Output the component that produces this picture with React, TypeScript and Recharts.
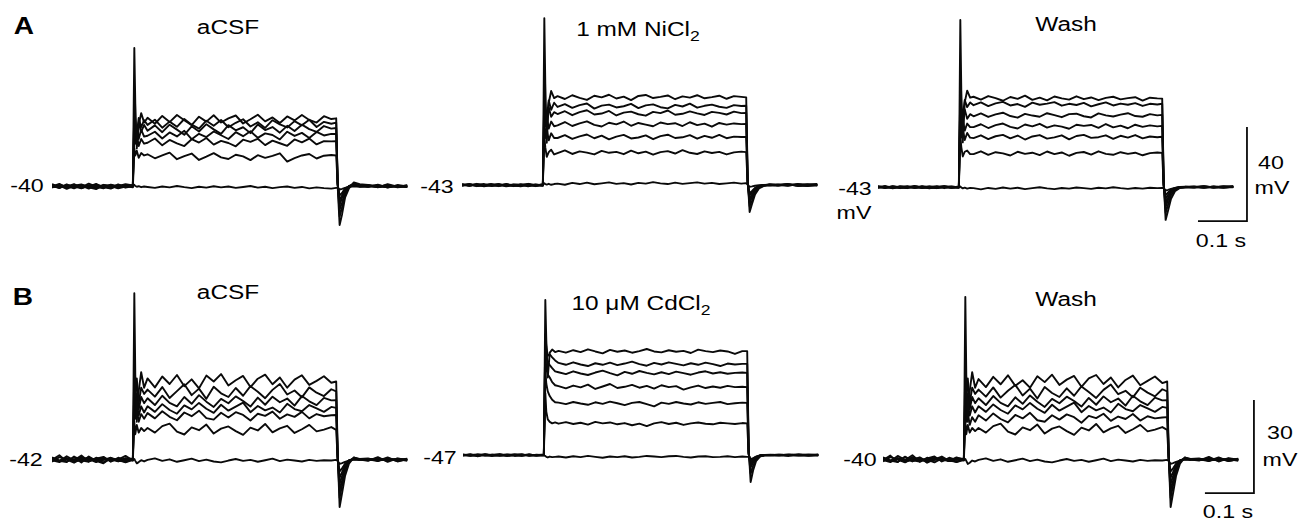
import React from 'react';
import { LineChart, Line, XAxis, YAxis } from 'recharts';

// ---- shared time base (ms from start of sweep) ----
const timeMs = [
  0, 15, 30, 45, 60, 75, 90, 105, 120, 135, 150, 165,
  168, 170, 173, 177, 182, 188,
  195, 210, 225, 240, 255, 270, 285, 300, 315, 330, 345, 360, 375, 390, 405, 420, 435, 450, 465, 480, 495, 510, 525, 540, 555, 570, 580,
  583, 587, 592, 598, 606, 616, 628,
  645, 665, 685, 705, 725,
];

// ---- A: aCSF (rest -40 mV) ----
const A1_t1 = [-40.2, -39.1, -40.8, -39.5, -40.6, -39.0, -40.3, -41.0, -39.4, -40.1, -39.2, -39.8,
  18.7, -5, -24, -14, -9, -13,
  -11.0, -13.5, -10.2, -12.8, -9.8, -12.0, -14.1, -10.5, -12.6, -9.9, -13.0, -11.2, -10.0, -13.4, -11.6, -9.7, -12.5, -10.8, -13.2, -10.4, -12.1, -9.8, -11.9, -13.0, -10.3, -11.5, -11.2,
  -40, -56.6, -52, -45, -41, -38.5, -39.2,
  -39.5, -40.6, -39.2, -40.3, -39.8];
const A1_t2 = [-39.6, -40.9, -39.3, -40.7, -39.8, -41.1, -39.5, -40.2, -40.9, -39.3, -40.5, -39.9,
  -8, -12, -18, -11, -15, -12,
  -14.0, -11.8, -15.2, -12.6, -14.8, -11.5, -13.9, -15.6, -12.2, -14.4, -11.9, -15.0, -13.1, -11.6, -14.7, -12.9, -15.3, -12.0, -13.8, -15.1, -12.4, -14.2, -11.8, -14.9, -12.7, -13.5, -13.0,
  -38, -53, -49, -44, -40.5, -38.8, -39.6,
  -40.4, -39.4, -40.7, -39.6, -40.2];
const A1_t3 = [-40.5, -39.7, -41.2, -39.9, -39.3, -40.6, -41.3, -39.6, -40.1, -40.8, -39.6, -40.3,
  -6, -16, -20, -13, -17, -14,
  -16.5, -14.2, -17.1, -13.9, -16.0, -18.2, -14.6, -16.8, -13.7, -15.9, -17.8, -14.1, -16.3, -15.0, -17.5, -13.8, -16.2, -14.9, -17.3, -14.4, -16.6, -13.9, -15.8, -17.0, -14.5, -15.6, -15.3,
  -38, -50, -47, -43, -40.2, -39.0, -39.9,
  -39.8, -40.5, -39.5, -40.6, -40.1];
const A1_t4 = [-39.2, -40.4, -40.0, -41.0, -39.6, -40.3, -39.1, -40.7, -39.8, -41.0, -40.2, -39.5,
  -12, -19, -15, -20, -16, -19,
  -18.6, -16.9, -19.8, -17.2, -18.9, -16.5, -20.1, -17.8, -19.2, -16.8, -18.4, -20.0, -17.1, -18.8, -16.7, -19.5, -17.6, -18.3, -20.2, -16.9, -18.7, -17.4, -19.6, -17.0, -18.5, -17.8, -17.9,
  -39, -48, -45, -42, -40.0, -39.3, -40.2,
  -40.1, -39.7, -40.4, -39.9, -40.5];
const A1_t5 = [-40.7, -39.4, -40.3, -39.2, -40.9, -39.7, -40.6, -39.5, -40.4, -39.6, -40.7, -40.0,
  -15, -22, -18, -23, -20, -22,
  -21.6, -19.8, -22.7, -20.4, -21.9, -23.0, -20.1, -21.5, -19.6, -22.4, -20.8, -21.7, -23.1, -20.3, -21.2, -19.9, -22.6, -20.7, -21.8, -22.9, -20.2, -21.4, -19.8, -22.3, -20.9, -21.0, -20.9,
  -39, -46, -44, -41.5, -40.1, -39.6, -40.0,
  -39.6, -40.2, -39.8, -40.5, -39.7];
const A1_t6 = [-40.1, -40.8, -39.5, -40.2, -41.0, -39.9, -39.6, -40.5, -41.1, -39.8, -40.0, -40.6,
  -24, -27, -25, -28, -26, -27,
  -26.5, -28.2, -27.0, -25.8, -28.6, -27.3, -26.2, -28.9, -27.5, -26.0, -27.8, -28.5, -26.7, -27.4, -29.0, -26.9, -28.0, -27.2, -26.1, -29.6, -28.1, -27.0, -26.4, -28.3, -27.1, -26.8, -27.0,
  -39.5, -44, -43, -41, -40.2, -39.8, -40.1,
  -40.3, -39.9, -40.6, -40.0, -40.4];
const A1_t7 = [-40.4, -39.9, -40.6, -40.1, -39.7, -40.3, -40.8, -40.0, -39.6, -40.5, -40.2, -39.9,
  -39.5, -40.0, -40.3, -40.1, -40.5, -40.2,
  -40.4, -40.8, -40.2, -40.6, -40.0, -40.5, -40.9, -40.3, -40.7, -40.1, -40.6, -40.2, -40.8, -40.4, -40.0, -40.7, -40.3, -40.9, -40.5, -40.2, -40.8, -40.4, -41.0, -40.6, -40.9, -41.1, -40.8,
  -40.8, -41.5, -41.2, -40.8, -40.4, -40.1, -40.3,
  -40.0, -40.4, -40.2, -39.9, -40.3];

// ---- A: 1 mM NiCl2 (rest -43 mV) ----
const A2_t1 = [-43.2, -42.6, -43.5, -42.9, -43.3, -42.7, -43.6, -43.0, -42.8, -43.4, -42.9, -43.1,
  28, 0, -25, -8, -3, -6,
  -5.2, -6.4, -4.8, -5.9, -6.8, -5.0, -5.7, -4.6, -6.2, -5.4, -6.9, -5.1, -4.7, -6.0, -5.5, -4.9, -6.5, -5.3, -5.8, -4.8, -6.1, -5.6, -5.0, -6.3, -5.2, -5.5, -5.7,
  -40, -54.5, -51, -47, -44.5, -43.4, -42.8,
  -43.1, -42.7, -43.3, -42.9, -42.5];
const A2_t2 = [-42.8, -43.4, -42.5, -43.1, -42.7, -43.5, -42.9, -43.2, -43.6, -42.6, -43.0, -43.3,
  -2, -10, -15, -7, -11, -8,
  -9.8, -8.6, -10.2, -9.0, -8.3, -10.5, -9.2, -8.8, -10.0, -9.5, -8.5, -10.3, -9.1, -8.7, -9.9, -10.4, -8.9, -9.6, -8.4, -10.1, -9.3, -8.8, -9.7, -10.2, -9.0, -9.4, -9.3,
  -41, -52, -49.5, -46, -44, -43.2, -43.0,
  -42.8, -43.3, -42.6, -43.0, -43.2];
const A2_t3 = [-43.0, -42.7, -43.4, -43.1, -42.6, -43.2, -42.9, -43.5, -42.8, -43.0, -43.3, -42.7,
  -5, -13, -17, -10, -14, -12,
  -12.8, -11.6, -13.3, -12.0, -11.2, -13.0, -12.6, -11.5, -13.4, -12.2, -11.8, -12.9, -13.5, -11.9, -12.4, -11.3, -13.1, -12.7, -11.7, -12.5, -13.2, -11.9, -12.3, -13.0, -11.8, -12.4, -12.3,
  -41.5, -50.5, -48, -45.5, -43.8, -43.1, -42.9,
  -43.2, -42.8, -43.1, -43.4, -42.9];
const A2_t4 = [-42.6, -43.3, -42.9, -43.6, -43.0, -42.7, -43.4, -42.8, -43.1, -42.5, -43.5, -43.0,
  -9, -18, -14, -19, -16, -18,
  -17.6, -16.2, -17.9, -16.8, -15.9, -17.4, -18.1, -16.5, -17.2, -16.0, -17.8, -16.6, -17.3, -18.0, -16.4, -17.1, -16.7, -17.9, -16.3, -17.5, -16.9, -18.2, -16.6, -17.3, -16.8, -17.1, -17.0,
  -42, -49, -47, -45, -43.6, -43.0, -43.2,
  -42.9, -43.2, -42.7, -43.3, -43.0];
const A2_t5 = [-43.3, -42.8, -43.0, -42.6, -43.4, -43.1, -42.7, -43.3, -42.9, -43.6, -42.8, -43.2,
  -14, -23, -19, -24, -21, -23,
  -23.0, -21.8, -23.4, -22.3, -21.5, -23.1, -22.0, -23.6, -22.4, -21.7, -23.2, -22.8, -21.9, -23.5, -22.2, -21.6, -23.0, -22.7, -21.8, -23.3, -22.1, -22.9, -21.7, -23.1, -22.4, -22.6, -22.5,
  -42.5, -47.5, -46, -44.5, -43.5, -43.1, -42.8,
  -43.0, -42.6, -43.4, -43.1, -42.7];
const A2_t6 = [-42.9, -43.2, -42.7, -43.4, -43.0, -43.3, -42.6, -43.1, -43.5, -42.9, -43.2, -42.8,
  -22, -27, -31, -29, -28, -30,
  -29.4, -28.3, -29.8, -28.7, -29.2, -30.0, -28.5, -29.3, -28.9, -29.9, -28.4, -29.5, -28.8, -30.1, -29.0, -28.6, -29.6, -28.2, -29.3, -29.8, -28.7, -29.4, -28.9, -30.0, -29.1, -28.8, -29.0,
  -42.8, -46.5, -45.5, -44.2, -43.4, -43.0, -43.1,
  -43.2, -42.9, -43.0, -42.7, -43.1];
const A2_t7 = [-43.0, -42.8, -43.2, -42.9, -43.1, -42.7, -43.3, -42.9, -43.0, -42.8, -43.2, -42.9,
  -42.3, -42.6, -42.8, -42.5, -42.9, -42.6,
  -42.4, -42.9, -42.1, -42.6, -42.0, -42.7, -42.3, -41.9, -42.5, -42.2, -42.8, -42.1, -42.4, -41.8, -42.3, -42.6, -42.0, -42.5, -42.2, -41.9, -42.4, -42.1, -42.6, -42.3, -42.0, -42.4, -42.2,
  -42.8, -43.8, -43.6, -43.3, -43.1, -43.0, -42.9,
  -43.0, -42.8, -43.1, -42.9, -43.0];

// ---- A: Wash (rest -43 mV) ----
const A3_t1 = [-43.3, -42.8, -43.6, -42.9, -43.1, -42.6, -43.4, -43.0, -42.7, -43.5, -43.0, -42.9,
  28.1, -2, -24, -7, -2, -5,
  -4.6, -5.8, -4.3, -5.2, -6.3, -4.7, -5.5, -4.1, -5.9, -5.0, -6.1, -4.5, -5.3, -5.8, -4.4, -5.6, -4.9, -6.0, -5.1, -4.6, -5.7, -5.2, -4.8, -6.2, -5.0, -5.3, -5.4,
  -40, -57, -53, -48, -44.8, -43.4, -42.9,
  -43.2, -42.8, -43.1, -42.7, -43.0];
const A3_t2 = [-42.9, -43.4, -42.7, -43.2, -43.5, -42.8, -43.1, -43.6, -42.9, -43.0, -43.3, -42.8,
  -1, -9, -13, -6, -9, -7,
  -8.2, -7.0, -8.6, -7.4, -6.8, -8.3, -7.7, -8.9, -7.1, -8.0, -7.5, -6.9, -8.4, -7.6, -8.1, -7.2, -8.7, -7.8, -7.0, -8.3, -7.5, -8.0, -7.3, -8.5, -7.6, -7.9, -7.6,
  -41, -54, -50.5, -46.5, -44.2, -43.3, -43.0,
  -42.8, -43.2, -42.9, -43.3, -42.8];
const A3_t3 = [-43.1, -42.6, -43.3, -43.0, -42.8, -43.4, -42.7, -43.2, -43.5, -42.9, -43.1, -43.3,
  -4, -13, -16, -10, -14, -12,
  -12.9, -11.7, -13.2, -12.1, -11.4, -12.8, -13.5, -11.9, -12.6, -13.1, -11.6, -12.4, -13.3, -12.0, -11.8, -12.9, -13.4, -11.7, -12.5, -13.0, -12.2, -11.6, -12.8, -13.1, -12.0, -12.5, -12.3,
  -41.5, -51.5, -48.5, -45.5, -43.9, -43.1, -43.0,
  -43.1, -42.7, -43.2, -43.0, -42.8];
const A3_t4 = [-42.7, -43.2, -43.0, -43.5, -42.8, -43.1, -43.4, -42.9, -43.2, -42.6, -43.3, -43.1,
  -9, -18, -14, -19, -16, -17.5,
  -17.5, -16.3, -17.9, -16.7, -16.0, -17.4, -18.1, -16.4, -17.2, -16.1, -17.7, -16.8, -17.3, -18.2, -16.5, -17.0, -16.6, -17.8, -16.2, -17.6, -16.9, -18.0, -16.5, -17.4, -16.8, -17.2, -17.0,
  -42, -49.5, -47.5, -45, -43.7, -43.1, -43.0,
  -42.9, -43.3, -42.8, -43.2, -43.0];
const A3_t5 = [-43.2, -42.9, -43.4, -42.7, -43.0, -43.3, -42.8, -43.5, -43.0, -42.7, -43.2, -43.0,
  -13, -22, -18, -23, -20, -22,
  -22.2, -21.0, -22.6, -21.4, -20.8, -22.3, -21.1, -22.8, -21.5, -20.9, -22.4, -21.9, -21.0, -22.7, -21.3, -20.8, -22.1, -21.8, -21.0, -22.5, -21.2, -22.0, -20.9, -22.3, -21.5, -21.8, -21.6,
  -42.5, -48, -46.3, -44.6, -43.5, -43.0, -42.9,
  -43.1, -42.8, -43.2, -43.0, -42.7];
const A3_t6 = [-42.8, -43.3, -42.9, -43.2, -43.4, -42.7, -43.1, -42.9, -43.5, -43.0, -42.8, -43.2,
  -21, -26, -30, -28, -27.5, -29,
  -29.0, -27.8, -29.3, -28.2, -28.7, -29.6, -28.0, -28.9, -28.4, -29.4, -27.9, -29.0, -28.3, -29.7, -28.5, -28.1, -29.2, -27.8, -28.9, -29.3, -28.2, -28.9, -28.4, -29.5, -28.6, -28.3, -28.5,
  -42.8, -46.5, -45.3, -44.1, -43.4, -43.0, -43.1,
  -43.0, -42.9, -43.2, -42.8, -43.1];
const A3_t7 = [-43.0, -43.2, -42.8, -43.1, -42.9, -43.3, -43.0, -42.8, -43.2, -43.0, -42.9, -43.1,
  -42.8, -43.2, -43.6, -43.3, -43.7, -43.4,
  -43.5, -44.0, -43.4, -43.8, -43.2, -43.7, -43.3, -43.9, -43.5, -43.1, -43.6, -43.9, -43.4, -43.7, -43.2, -43.5, -43.8, -43.3, -43.6, -43.1, -43.5, -43.8, -43.4, -43.7, -43.3, -43.5, -43.4,
  -43.5, -44.5, -44.2, -43.8, -43.4, -43.2, -43.1,
  -43.0, -43.2, -42.9, -43.1, -43.0];

// ---- B: aCSF (rest -42 mV) ----
const B1_t1 = [-42.3, -40.8, -42.9, -41.5, -43.1, -41.2, -42.6, -43.4, -41.7, -42.2, -41.0, -42.5,
  11.5, -15, -30, -20, -14, -19,
  -16.0, -18.9, -15.4, -17.8, -14.9, -18.5, -16.3, -19.2, -15.1, -17.0, -14.6, -18.3, -16.6, -15.2, -18.8, -16.1, -14.8, -17.9, -15.7, -19.0, -16.4, -15.0, -18.1, -16.8, -15.3, -17.4, -17.0,
  -40, -57.5, -53, -47.5, -43.5, -41.5, -42.2,
  -42.6, -41.4, -42.9, -41.8, -42.3];
const B1_t2 = [-41.6, -42.7, -41.1, -42.4, -40.9, -42.8, -41.9, -41.3, -42.9, -41.6, -42.4, -41.9,
  -12.3, -22, -16, -24, -19, -21,
  -19.6, -21.9, -18.8, -22.3, -20.1, -17.9, -21.4, -19.3, -22.6, -18.7, -20.8, -22.0, -19.1, -21.6, -18.5, -20.3, -22.4, -19.7, -17.8, -21.2, -19.9, -22.1, -18.9, -20.6, -21.7, -19.5, -20.2,
  -40.5, -54.5, -50.5, -46, -43, -41.6, -42.0,
  -41.8, -42.6, -41.5, -42.8, -42.0];
const B1_t3 = [-42.9, -41.4, -42.2, -43.2, -41.8, -42.0, -43.0, -41.5, -42.7, -42.1, -43.1, -42.3,
  -18, -25, -21, -26, -22, -24,
  -22.4, -24.6, -21.6, -23.9, -25.0, -22.0, -24.2, -21.4, -23.5, -25.2, -22.6, -24.0, -21.8, -23.3, -25.1, -22.2, -24.5, -21.9, -23.7, -22.5, -24.8, -21.7, -23.4, -24.6, -22.3, -23.1, -23.0,
  -41, -52, -49, -45.5, -42.8, -41.8, -42.1,
  -42.4, -41.7, -42.5, -42.0, -42.6];
const B1_t4 = [-41.5, -42.6, -43.0, -41.2, -42.4, -42.9, -41.6, -42.3, -41.8, -42.8, -41.7, -42.0,
  -21, -27, -24, -28, -25, -27,
  -25.0, -26.8, -24.3, -26.2, -27.4, -24.7, -26.0, -23.9, -25.8, -27.1, -24.5, -26.4, -25.1, -23.8, -26.9, -24.9, -26.3, -25.4, -27.0, -24.2, -25.9, -26.6, -24.6, -25.7, -26.8, -25.2, -25.5,
  -41.5, -50, -47.5, -44.8, -42.6, -41.9, -42.0,
  -42.1, -42.7, -41.8, -42.3, -41.9];
const B1_t5 = [-42.4, -43.0, -41.9, -42.7, -41.4, -42.5, -42.2, -43.1, -41.8, -42.5, -42.9, -42.1,
  -24, -29, -26, -30, -27.5, -29,
  -27.2, -28.9, -26.6, -28.4, -29.5, -27.0, -28.2, -26.4, -28.8, -29.3, -27.1, -28.6, -26.9, -27.8, -29.6, -27.4, -28.1, -26.7, -29.0, -27.6, -28.4, -26.8, -28.9, -27.5, -28.2, -27.9, -27.8,
  -42, -48, -46.2, -44, -42.5, -42.0, -42.2,
  -42.0, -42.4, -41.9, -42.6, -42.2];
const B1_t6 = [-42.0, -42.6, -41.7, -42.9, -42.2, -41.5, -42.8, -42.3, -41.6, -42.7, -42.1, -42.5,
  -30, -34, -31, -33.5, -32, -33,
  -32.0, -33.5, -31.4, -30.6, -33.2, -34.1, -31.8, -32.7, -30.9, -33.8, -32.2, -31.5, -33.0, -34.2, -31.9, -32.8, -30.7, -33.4, -32.1, -31.3, -33.6, -32.4, -31.0, -33.1, -32.5, -31.7, -32.6,
  -42.2, -46, -45, -43.5, -42.4, -42.0, -42.1,
  -42.3, -42.0, -42.5, -41.9, -42.2];
const B1_t7 = [-42.1, -42.5, -41.8, -42.3, -42.6, -42.0, -42.4, -41.9, -42.2, -42.7, -42.1, -42.3,
  -42.0, -42.6, -43.4, -43.0, -42.4, -42.8,
  -42.3, -41.8, -42.6, -42.1, -42.9, -42.4, -41.9, -42.7, -42.2, -42.8, -43.1, -42.5, -42.0, -42.6, -42.3, -42.9, -42.4, -41.9, -42.7, -42.2, -42.5, -42.8, -42.3, -42.6, -42.4, -42.5, -42.3,
  -42.6, -43.6, -43.3, -42.9, -42.5, -42.2, -42.3,
  -42.0, -42.4, -42.1, -42.5, -42.2];

// ---- B: 10 uM CdCl2 (rest -47 mV) ----
const B2_t1 = [-47.2, -46.8, -47.4, -46.9, -47.1, -46.7, -47.3, -47.0, -46.8, -47.2, -46.9, -47.1,
  3.0, -10, -22, -14, -13, -13.8,
  -13.4, -14.0, -13.2, -13.8, -12.9, -13.6, -14.2, -13.1, -13.7, -13.3, -14.0, -13.5, -12.8, -13.6, -13.9, -13.2, -13.7, -13.4, -14.1, -13.0, -13.5, -13.8, -13.3, -13.6, -14.4, -13.5, -13.5,
  -45, -55.7, -52, -49, -47.5, -47.0, -47.1,
  -47.0, -47.3, -46.8, -47.1, -47.0];
const B2_t2 = [-46.9, -47.3, -47.0, -46.7, -47.2, -47.0, -46.8, -47.3, -47.1, -46.8, -47.2, -47.0,
  -8, -12, -15, -14.5, -15.5, -16.5,
  -17.3, -17.9, -17.1, -17.8, -18.3, -17.4, -17.9, -17.2, -18.0, -17.5, -16.9, -17.7, -18.2, -17.3, -17.8, -17.1, -17.6, -18.1, -17.4, -17.9, -17.2, -17.7, -18.3, -17.5, -17.8, -17.6, -17.6,
  -46, -53, -50.5, -48.5, -47.4, -47.0, -47.0,
  -47.1, -46.9, -47.2, -47.0, -46.8];
const B2_t3 = [-47.1, -46.8, -47.2, -47.0, -46.9, -47.3, -47.0, -46.8, -47.2, -46.9, -47.1, -47.0,
  -10, -15, -17, -18, -19, -20,
  -20.3, -20.9, -20.0, -20.7, -21.2, -20.4, -19.8, -20.6, -21.3, -20.2, -20.8, -19.9, -20.5, -21.0, -20.3, -20.9, -20.1, -20.6, -21.1, -20.4, -20.0, -20.7, -20.3, -20.8, -20.5, -20.4, -20.5,
  -46.2, -51, -49.5, -48, -47.3, -47.0, -47.1,
  -46.9, -47.1, -47.0, -46.8, -47.1];
const B2_t4 = [-46.8, -47.2, -46.9, -47.1, -47.3, -46.9, -47.1, -47.0, -46.8, -47.3, -47.0, -46.9,
  -14, -19, -21, -22, -23.5, -24.5,
  -24.8, -25.5, -24.6, -25.2, -24.3, -25.7, -24.9, -24.1, -25.4, -25.0, -24.4, -25.3, -24.7, -25.6, -24.5, -25.1, -24.8, -25.9, -25.2, -24.6, -25.4, -24.9, -25.3, -24.7, -25.1, -25.0, -25.1,
  -46.5, -50, -49, -47.8, -47.2, -47.0, -46.9,
  -47.1, -47.0, -46.8, -47.2, -47.0];
const B2_t5 = [-47.0, -46.9, -47.3, -46.8, -47.1, -47.2, -46.9, -47.0, -47.3, -46.9, -47.1, -46.8,
  -19, -24, -26.5, -28, -29.2, -30,
  -30.1, -30.6, -29.9, -30.4, -30.8, -30.0, -30.5, -29.8, -30.3, -30.9, -30.2, -29.9, -30.6, -31.3, -30.1, -30.5, -29.9, -30.4, -30.7, -30.0, -30.5, -30.2, -29.9, -30.6, -30.3, -30.1, -30.2,
  -46.7, -49.2, -48.5, -47.6, -47.1, -47.0, -47.0,
  -46.9, -47.1, -47.0, -47.2, -46.9];
const B2_t6 = [-47.1, -47.0, -46.8, -47.2, -46.9, -47.0, -47.3, -46.8, -47.1, -46.9, -47.2, -47.0,
  -27, -33, -35.5, -36.3, -36.8, -36.5,
  -36.9, -36.4, -37.0, -36.6, -37.2, -36.3, -36.8, -36.5, -37.1, -36.7, -37.4, -36.9, -37.7, -36.8, -36.4, -37.0, -36.6, -37.3, -36.8, -36.5, -36.9, -37.1, -36.6, -36.8, -37.0, -36.7, -36.8,
  -46.9, -48.8, -48.2, -47.5, -47.1, -47.0, -47.0,
  -47.0, -46.9, -47.1, -47.0, -47.2];
const B2_t7 = [-47.0, -47.2, -46.9, -47.1, -47.0, -46.8, -47.2, -47.0, -46.9, -47.1, -47.0, -47.2,
  -47.3, -47.6, -47.8, -47.5, -47.7, -47.6,
  -47.5, -47.8, -47.4, -47.7, -47.3, -47.6, -47.9, -47.5, -47.7, -47.4, -47.8, -47.6, -47.3, -47.5, -47.7, -47.4, -47.3, -47.6, -47.8, -47.5, -47.4, -47.7, -47.6, -47.4, -47.7, -47.5, -47.6,
  -47.6, -48.3, -48.0, -47.6, -47.3, -47.1, -47.0,
  -47.1, -46.9, -47.0, -47.1, -47.0];

// ---- B: Wash (rest -40 mV) ----
const B3_t1 = [-40.4, -38.9, -41.0, -39.3, -40.8, -39.6, -41.2, -40.1, -39.2, -40.6, -39.5, -40.2,
  12.3, -13, -28, -18, -12, -17,
  -14.2, -16.8, -13.5, -15.9, -13.0, -16.4, -14.6, -17.0, -13.3, -15.2, -12.8, -16.1, -14.4, -13.2, -16.7, -14.0, -12.9, -15.8, -13.7, -16.9, -14.5, -13.1, -16.2, -14.8, -13.4, -15.5, -15.0,
  -38, -55.5, -51, -45.5, -41.5, -39.5, -40.2,
  -40.5, -39.3, -40.8, -39.7, -40.2];
const B3_t2 = [-39.5, -40.7, -39.0, -40.3, -38.8, -40.9, -39.8, -39.2, -40.8, -39.6, -40.3, -39.9,
  -10.3, -20, -14, -22, -17, -19,
  -17.6, -19.9, -16.9, -20.2, -18.0, -16.1, -19.5, -17.3, -20.5, -16.8, -18.7, -20.0, -17.2, -19.6, -16.6, -18.4, -20.3, -17.7, -16.0, -19.1, -18.0, -20.1, -17.0, -18.6, -19.8, -17.5, -18.2,
  -38.5, -52.5, -48.5, -44, -41, -39.6, -40.0,
  -39.8, -40.6, -39.5, -40.7, -40.0];
const B3_t3 = [-40.8, -39.4, -40.2, -41.1, -39.7, -40.0, -40.9, -39.5, -40.6, -40.1, -41.0, -40.3,
  -16, -23, -19, -24, -20, -22,
  -20.4, -22.6, -19.7, -21.9, -23.0, -20.1, -22.2, -19.5, -21.5, -23.2, -20.6, -22.0, -19.9, -21.3, -23.1, -20.3, -22.5, -19.8, -21.7, -20.5, -22.8, -19.6, -21.4, -22.6, -20.2, -21.1, -21.0,
  -39, -50, -47, -43.5, -40.8, -39.8, -40.1,
  -40.3, -39.7, -40.5, -40.0, -40.6];
const B3_t4 = [-39.6, -40.5, -41.0, -39.3, -40.4, -40.8, -39.6, -40.3, -39.8, -40.7, -39.7, -40.0,
  -19, -25, -22, -26, -23, -25,
  -23.0, -24.8, -22.4, -24.2, -25.4, -22.7, -24.0, -21.9, -23.8, -25.1, -22.5, -24.4, -23.1, -21.8, -24.9, -22.9, -24.3, -23.4, -25.0, -22.2, -23.9, -24.6, -22.6, -23.7, -24.8, -23.2, -23.5,
  -39.5, -48, -45.5, -42.8, -40.6, -39.9, -40.0,
  -40.1, -40.7, -39.8, -40.3, -39.9];
const B3_t5 = [-40.3, -41.0, -39.9, -40.7, -39.4, -40.5, -40.2, -41.1, -39.8, -40.5, -40.9, -40.1,
  -22, -28, -25, -29, -26.5, -28,
  -25.9, -27.6, -25.3, -27.1, -28.2, -25.8, -26.9, -25.1, -27.5, -28.0, -25.9, -27.3, -25.6, -26.5, -28.3, -26.1, -26.8, -25.4, -27.7, -26.3, -27.1, -25.5, -27.6, -26.2, -26.9, -26.6, -26.5,
  -40, -46, -44.2, -42, -40.5, -40.0, -40.2,
  -40.0, -40.4, -39.9, -40.6, -40.2];
const B3_t6 = [-40.0, -40.6, -39.7, -40.9, -40.2, -39.5, -40.8, -40.3, -39.6, -40.7, -40.1, -40.5,
  -28, -32, -29, -31.5, -30, -31,
  -30.0, -31.5, -29.4, -28.6, -31.2, -32.1, -29.8, -30.7, -28.9, -31.8, -30.2, -29.5, -31.0, -32.2, -29.9, -30.8, -28.7, -31.4, -30.1, -29.3, -31.6, -30.4, -29.0, -31.1, -30.5, -29.7, -30.6,
  -40.2, -44, -43, -41.5, -40.4, -40.0, -40.1,
  -40.3, -40.0, -40.5, -39.9, -40.2];
const B3_t7 = [-40.1, -40.5, -39.8, -40.3, -40.6, -40.0, -40.4, -39.9, -40.2, -40.7, -40.1, -40.3,
  -40.0, -40.6, -41.6, -41.2, -40.5, -40.8,
  -40.3, -39.8, -40.6, -40.1, -40.9, -40.4, -39.9, -40.7, -40.2, -40.8, -41.1, -40.5, -40.0, -40.6, -40.3, -40.9, -40.4, -39.9, -40.7, -40.2, -40.5, -40.8, -40.3, -40.6, -40.4, -40.5, -40.3,
  -40.6, -41.6, -41.3, -40.9, -40.5, -40.2, -40.3,
  -40.0, -40.4, -40.1, -40.5, -40.2];

// ---- labels ----
const rowLetters = ['A', 'B'];
const restLabels = ['-40', '-43', '-43', '-42', '-47', '-40'];
const restPotentials = [-40, -43, -43, -42, -47, -40];
const scaleBarMs = 100;
const scaleBarMvA = 40;
const scaleBarMvB = 30;

// ---- layout ----
const PX_PER_MS = 0.49;
const X_MAX = 800;
const ONSET_MS = 167;
const CHART_W = X_MAX * PX_PER_MS;
const ABOVE = 175;
const BELOW = 65;
const FONT = '"Liberation Sans", Arial, Helvetica, sans-serif';
const STRETCH = 1.22;

type Panel = {
  traces: number[][];
  rest: number;
  onsetX: number;
  restY: number;
  k: number;
  scale?: { mv: number; cornerT: number; cornerV: number };
};

const panels: Panel[] = [
  { traces: [A1_t7, A1_t6, A1_t5, A1_t4, A1_t3, A1_t2, A1_t1], rest: restPotentials[0], onsetX: 134, restY: 186, k: 2.35 },
  { traces: [A2_t7, A2_t6, A2_t5, A2_t4, A2_t3, A2_t2, A2_t1], rest: restPotentials[1], onsetX: 544, restY: 185, k: 2.35 },
  { traces: [A3_t7, A3_t6, A3_t5, A3_t4, A3_t3, A3_t2, A3_t1], rest: restPotentials[2], onsetX: 960, restY: 187, k: 2.35,
    scale: { mv: scaleBarMvA, cornerT: 753, cornerV: -57.5 } },
  { traces: [B1_t7, B1_t6, B1_t5, B1_t4, B1_t3, B1_t2, B1_t1], rest: restPotentials[3], onsetX: 134, restY: 459, k: 3.1 },
  { traces: [B2_t7, B2_t6, B2_t5, B2_t4, B2_t3, B2_t2, B2_t1], rest: restPotentials[4], onsetX: 545, restY: 455, k: 3.1 },
  { traces: [B3_t7, B3_t6, B3_t5, B3_t4, B3_t3, B3_t2, B3_t1], rest: restPotentials[5], onsetX: 965, restY: 459, k: 3.1,
    scale: { mv: scaleBarMvB, cornerT: 757, cornerV: -51 } },
];

function Txt(props: { x: number; y: number; size?: number; bold?: boolean; children: React.ReactNode }) {
  const { x, y, size = 18, bold = false, children } = props;
  return (
    <div
      style={{
        position: 'absolute',
        left: x,
        top: y,
        transform: `translate(-50%, -50%) scaleX(${STRETCH})`,
        fontFamily: FONT,
        fontSize: size,
        fontWeight: bold ? 700 : 400,
        lineHeight: 1,
        whiteSpace: 'nowrap',
        color: '#000',
      }}
    >
      {children}
    </div>
  );
}

const Sub = ({ children }: { children: React.ReactNode }) => (
  <span style={{ fontSize: '0.72em', position: 'relative', top: '0.38em' }}>{children}</span>
);

function TracePanel({ p }: { p: Panel }) {
  const rows = timeMs.map((t, i) => {
    const r: Record<string, number> = { t };
    p.traces.forEach((tr, j) => {
      r['s' + j] = tr[i];
    });
    return r;
  });
  const left = p.onsetX - ONSET_MS * PX_PER_MS;
  const top = p.restY - ABOVE;
  const yDomain: [number, number] = [p.rest - BELOW / p.k, p.rest + ABOVE / p.k];
  const bar = p.scale
    ? [
        { t: p.scale.cornerT - scaleBarMs, v: p.scale.cornerV },
        { t: p.scale.cornerT, v: p.scale.cornerV },
        { t: p.scale.cornerT, v: p.scale.cornerV + p.scale.mv },
      ]
    : null;
  return (
    <div style={{ position: 'absolute', left, top }}>
      <LineChart width={CHART_W} height={ABOVE + BELOW} data={rows} margin={{ top: 0, right: 0, bottom: 0, left: 0 }}>
        <XAxis dataKey="t" type="number" domain={[0, X_MAX]} hide allowDataOverflow />
        <YAxis type="number" domain={yDomain} hide allowDataOverflow />
        {p.traces.map((_, j) => (
          <Line
            key={j}
            dataKey={'s' + j}
            type="linear"
            stroke="#0a0a0a"
            strokeWidth={1.9}
            dot={false}
            isAnimationActive={false}
            strokeLinejoin="round"
          />
        ))}
        {bar && (
          <Line
            data={bar}
            dataKey="v"
            type="linear"
            stroke="#0a0a0a"
            strokeWidth={1.8}
            dot={false}
            isAnimationActive={false}
            strokeLinejoin="miter"
          />
        )}
      </LineChart>
    </div>
  );
}

export default function App() {
  return (
    <div style={{ position: 'absolute', left: 0, top: 0, width: 1307, height: 520, background: '#fff', overflow: 'hidden' }}>
      {panels.map((p, i) => (
        <TracePanel key={i} p={p} />
      ))}
      <Txt x={24} y={26} size={23} bold>{rowLetters[0]}</Txt>
      <Txt x={23} y={297} size={23} bold>{rowLetters[1]}</Txt>

      <Txt x={228} y={27} size={20}>aCSF</Txt>
      <Txt x={638} y={29} size={20}>1 mM NiCl<Sub>2</Sub></Txt>
      <Txt x={1066} y={24} size={20}>Wash</Txt>
      <Txt x={228} y={292} size={20}>aCSF</Txt>
      <Txt x={641} y={303} size={20}>10 μM CdCl<Sub>2</Sub></Txt>
      <Txt x={1066} y={299} size={20}>Wash</Txt>

      <Txt x={27} y={185} size={19}>{restLabels[0]}</Txt>
      <Txt x={437} y={186} size={19}>{restLabels[1]}</Txt>
      <Txt x={855} y={188} size={19}>{restLabels[2]}</Txt>
      <Txt x={854} y={212} size={19}>mV</Txt>
      <Txt x={26} y={459} size={19}>{restLabels[3]}</Txt>
      <Txt x={440} y={457} size={19}>{restLabels[4]}</Txt>
      <Txt x={860} y={459} size={19}>{restLabels[5]}</Txt>

      <Txt x={1271} y={162} size={19}>{String(scaleBarMvA)}</Txt>
      <Txt x={1272} y={187} size={19}>mV</Txt>
      <Txt x={1221} y={240} size={19}>0.1 s</Txt>
      <Txt x={1280} y={432} size={19}>{String(scaleBarMvB)}</Txt>
      <Txt x={1280} y={459} size={19}>mV</Txt>
      <Txt x={1228} y={511} size={19}>0.1 s</Txt>
    </div>
  );
}
